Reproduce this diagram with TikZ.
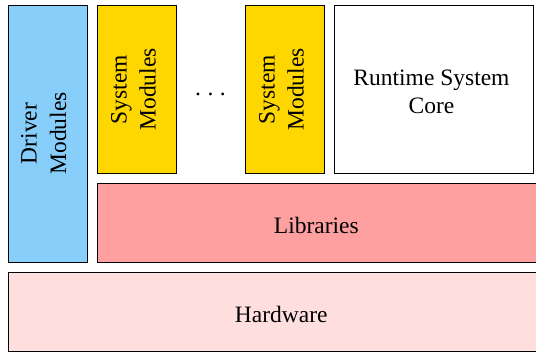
\documentclass[tikz,border=0pt]{standalone}
\usepackage{fontspec}
\setmainfont{Liberation Serif}
\definecolor{driverblue}{RGB}{135,206,250}
\definecolor{sysgold}{RGB}{255,215,0}
\definecolor{libpink}{RGB}{255,160,160}
\definecolor{hwpink}{RGB}{255,222,222}
\begin{document}
\begin{tikzpicture}[x=1pt,y=-1pt,
  box/.style={draw=black, line width=0.8pt, inner sep=0pt},
  lbl/.style={inner sep=0pt, font=\fontsize{23.5}{28}\selectfont},
  rlbl/.style={lbl, rotate=90, anchor=base}]
\useasboundingbox (0,0) rectangle (536,354);
\clip (0,0) rectangle (536,354);
\node[box, fill=driverblue, minimum width=79.5pt, minimum height=257pt] (driver) at (47.75,133.8) {};
\node[box, fill=sysgold, minimum width=79pt, minimum height=168pt] (sys1) at (136.5,89.3) {};
\node[box, fill=sysgold, minimum width=79.3pt, minimum height=168pt] (sys2) at (284.65,89.3) {};
\node[box, fill=white, minimum width=199pt, minimum height=168pt] (core) at (433.5,89.3) {};
\node[box, fill=libpink, minimum width=448pt, minimum height=79pt] (lib) at (321,222.8) {};
\node[box, fill=hwpink, minimum width=552pt, minimum height=78.7pt] (hw) at (284,311.65) {};
% texts
\node[rlbl] (drvA) at (36.5,133.5) {Driver};
\node[rlbl] (drvB) at (66,133.5) {Modules};
\node[rlbl] (s1A) at (126.5,89.5) {System};
\node[rlbl] (s1B) at (155.5,89.5) {Modules};
\node[rlbl] (s2A) at (274.5,89.5) {System};
\node[rlbl] (s2B) at (303.5,89.5) {Modules};
\node[lbl, anchor=base] (dots) at (210.5,95) {.\kern0.28em.\kern0.28em.};
\node[lbl, anchor=base] (coreA) at (431.5,85) {Runtime System};
\node[lbl, anchor=base] (coreB) at (431.5,113) {Core};
\node[lbl, anchor=base] (libt) at (316.3,233.3) {Libraries};
\node[lbl, anchor=base] (hwt) at (281.3,322.3) {Hardware};
\end{tikzpicture}
\end{document}
